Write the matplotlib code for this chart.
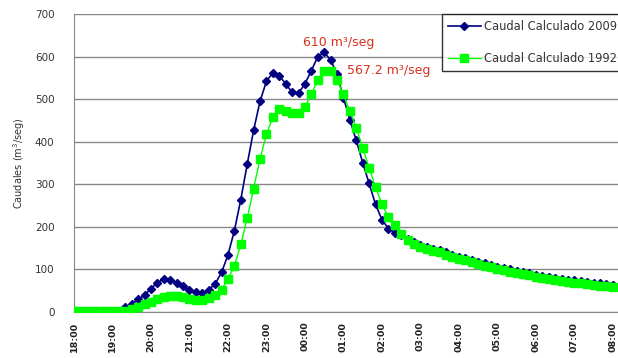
import matplotlib
matplotlib.use("Agg")
import matplotlib.pyplot as plt
import numpy as np

# Flow every 10 minutes from 18:00 to 08:00
caudal_2009 = [2, 2, 2, 2, 2, 2, 2, 3,
               12, 19, 30, 40, 55, 69, 77, 75, 69, 60, 52, 46, 45, 52, 66, 93,
               134, 191, 264, 347, 427, 495, 542, 562, 555, 536, 516, 514,
               536, 567, 600, 610, 592, 559, 503, 452, 403, 351, 302, 253,
               217, 196, 186, 180, 172, 164, 158, 153, 149, 145, 140, 135,
               130, 126, 122, 118, 114, 110, 106, 103, 100, 97, 94, 91,
               88, 85, 83, 80, 78, 76, 74, 72, 70, 68, 67, 65, 63]
caudal_1992 = [2, 2, 2, 2, 2, 2, 2, 2,
               2, 6, 12, 18, 24, 30, 35, 37, 37, 35, 31, 28, 28, 32, 40, 52,
               77, 108, 159, 220, 290, 360, 417, 459, 477, 473, 467, 467,
               481, 512, 545, 567.2, 566, 545, 511, 472, 433, 386, 339, 294,
               253, 223, 204, 184, 169, 159, 153, 148, 144, 140, 135, 130,
               125, 121, 117, 113, 109, 105, 101, 98, 95, 92, 89, 86,
               83, 80, 78, 75, 73, 71, 69, 67, 65, 63, 62, 60, 58]
hour_labels = ["18:00", "19:00", "20:00", "21:00", "22:00", "23:00", "00:00",
               "01:00", "02:00", "03:00", "04:00", "05:00", "06:00", "07:00", "08:00"]

x = np.arange(len(caudal_2009))

fig = plt.figure(figsize=(6.18, 3.58), dpi=100)
ax = fig.add_axes([74 / 618, 46 / 358, 1 - 74 / 618, 298 / 358])

ax.plot(x, caudal_2009, color="#000080", linewidth=1.2, marker="D",
        markersize=3.8, label="Caudal Calculado 2009", zorder=3)
ax.plot(x, caudal_1992, color="#00FF00", linewidth=1.0, marker="s",
        markersize=5.8, label="Caudal Calculado 1992", zorder=4)

ax.set_xlim(0, 84.8)
ax.set_ylim(0, 700)
ax.set_yticks(np.arange(0, 701, 100))
ax.set_xticks(np.arange(0, len(hour_labels) * 6, 6))
ax.set_xticklabels(hour_labels, rotation=90, fontsize=6.8, fontweight="bold",
                   color="#222222")
ax.tick_params(axis="y", labelsize=7.5, labelcolor="#333333", length=0, pad=14)
ax.tick_params(axis="x", length=0, pad=7)

ax.grid(axis="y", color="#888888", linewidth=1.0, zorder=1)
for s in ["top", "right"]:
    ax.spines[s].set_visible(False)
ax.spines["left"].set_color("#888888")
ax.spines["bottom"].set_color("#888888")

ax.set_ylabel("Caudales (m$^3$/seg)", fontsize=7, color="#333333", labelpad=6)

# peak labels
ax.text(41.2, 634, "610 m\u00b3/seg", color="#D8301E", fontsize=9,
        ha="center", va="center")
ax.text(42.6, 567, "567.2 m\u00b3/seg", color="#D8301E", fontsize=9,
        ha="left", va="center")

# legend box runs past the right edge, as in the original
leg = fig.legend(loc="upper left", bbox_to_anchor=(442 / 618, 1 - 14 / 358),
                 borderaxespad=0, fontsize=8.3, frameon=True, fancybox=False,
                 edgecolor="black", labelspacing=1.6, handlelength=2.8,
                 borderpad=0.55, handletextpad=0.25)
leg.get_frame().set_linewidth(1.0)
for t in leg.get_texts():
    t.set_color("#333333")

fig.savefig("out.png", dpi=100)
